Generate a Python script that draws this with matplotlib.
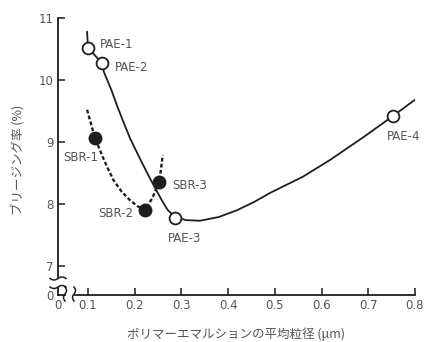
import numpy as np
import matplotlib
matplotlib.use("Agg")
import matplotlib.pyplot as plt

plt.rcParams['font.family'] = ['Noto Sans CJK JP', 'DejaVu Sans']

# ---- data ----
pae_names = ["PAE-1", "PAE-2", "PAE-3", "PAE-4"]
pae_x = [0.100, 0.130, 0.286, 0.753]
pae_y = [10.52, 10.27, 7.77, 9.42]

sbr_names = ["SBR-1", "SBR-2", "SBR-3"]
sbr_x = [0.115, 0.222, 0.252]
sbr_y = [9.06, 7.90, 8.35]

# traced curves
pae_curve_x = [0.098, 0.100, 0.130, 0.134, 0.150, 0.164, 0.177, 0.190, 0.210, 0.228, 0.245,
               0.258, 0.270, 0.286, 0.310, 0.340, 0.380, 0.419, 0.455, 0.490, 0.560, 0.618, 0.690, 0.753, 0.805]
pae_curve_y = [10.78, 10.52, 10.27, 10.13, 9.84, 9.55, 9.30, 9.06, 8.75, 8.48, 8.24,
               8.06, 7.91, 7.79, 7.74, 7.73, 7.79, 7.90, 8.03, 8.18, 8.44, 8.71, 9.08, 9.42, 9.71]

sbr_curve_x = [0.098, 0.115, 0.136, 0.154, 0.172, 0.190, 0.207, 0.222, 0.238, 0.252, 0.256, 0.260]
sbr_curve_y = [9.52, 9.06, 8.68, 8.39, 8.20, 8.06, 7.96, 7.90, 8.10, 8.35, 8.55, 8.79]

xticks = [0.1, 0.2, 0.3, 0.4, 0.5, 0.6, 0.7, 0.8]
yticks = [7, 8, 9, 10, 11]
xlabel = "ポリマーエマルションの平均粒径 (μm)"
ylabel = "ブリージング率 (%)"

# ---- layout ----
W, H = 427, 342
fig = plt.figure(figsize=(W / 100, H / 100), dpi=100)
ax = fig.add_axes([58 / W, 1 - 295 / H, (415 - 58) / W, (295 - 18) / H])

x0 = 0.1 - 30 / 467.0
y0 = 7 - 29 / 62.0
ax.set_xlim(x0, 0.8)
ax.set_ylim(y0, 11)

ink = "#1e1e1e"
gray = "#555555"

ax.plot(pae_curve_x, pae_curve_y, color=ink, lw=1.3, solid_capstyle='round',
        solid_joinstyle='round', zorder=2)
ax.plot(sbr_curve_x, sbr_curve_y, color=ink, lw=1.7, ls=(0, (1.6, 1.0)), zorder=2)
ax.plot(pae_x, pae_y, 'o', ms=8.5, mfc='white', mec=ink, mew=1.3, zorder=3)
ax.plot(sbr_x, sbr_y, 'o', ms=9, mfc=ink, mec=ink, zorder=3)

pae_off = [(12, 3, 'left'), (13, -4, 'left'), (10, -20, 'center'), (11, -21, 'center')]
for n, x, y, (dx, dy, ha) in zip(pae_names, pae_x, pae_y, pae_off):
    ax.annotate(n, (x, y), xytext=(dx, dy), textcoords='offset pixels', ha=ha, va='center',
                fontsize=8.5, color=gray, family=['DejaVu Sans'])
sbr_off = [(-14, -19, 'center'), (-12, -3, 'right'), (13, -3, 'left')]
for n, x, y, (dx, dy, ha) in zip(sbr_names, sbr_x, sbr_y, sbr_off):
    ax.annotate(n, (x, y), xytext=(dx, dy), textcoords='offset pixels', ha=ha, va='center',
                fontsize=8.5, color=gray, family=['DejaVu Sans'])

# ticks
ax.set_xticks([x0] + xticks)
ax.set_xticklabels(["0"] + [f"{v:.1f}" for v in xticks])
ax.set_yticks([y0] + yticks)
ax.set_yticklabels(["0"] + [str(v) for v in yticks])
ax.tick_params(direction='in', length=5, width=1.1, color=ink, labelcolor=gray, labelsize=8.5, pad=3)
for lab in ax.get_xticklabels() + ax.get_yticklabels():
    lab.set_family(['DejaVu Sans'])
ax.xaxis.get_major_ticks()[0].tick1line.set_visible(False)
ax.yaxis.get_major_ticks()[0].tick1line.set_visible(False)

for s in ['top', 'right']:
    ax.spines[s].set_visible(False)
for s in ['left', 'bottom']:
    ax.spines[s].set_linewidth(1.3)
    ax.spines[s].set_color(ink)

# broken axes
y_gap_top = 11 - (277 - 18) / 62.0
y_gap_bot = 11 - (288 - 18) / 62.0
x_gap_l = 0.1 - (88 - 65) / 467.0
x_gap_r = 0.1 - (88 - 75) / 467.0
ax.spines['left'].set_bounds(y_gap_top, 11)
ax.spines['bottom'].set_bounds(x_gap_r, 0.8)
ax.plot([x0, x0], [y0, y_gap_bot], color=ink, lw=1.3, clip_on=False)
ax.plot([x0, x_gap_l], [y0, y0], color=ink, lw=1.3, clip_on=False)

t = np.linspace(0, 1, 30)
for py in (278.5, 287):
    xs = (50 + 16 * t) / W
    ys = 1 - (py + 1.5 * np.sin(2 * np.pi * t)) / H
    fig.add_artist(plt.Line2D(xs, ys, color=ink, lw=1.1))
for px in (65, 74):
    ys = 1 - (287 + 14 * t) / H
    xs = (px + 1.5 * np.sin(2 * np.pi * t)) / W
    fig.add_artist(plt.Line2D(xs, ys, color=ink, lw=1.1))

fig.text(236 / W, 1 - 334 / H, xlabel, ha='center', va='center', fontsize=9, color=gray)
fig.text(18 / W, 1 - 160 / H, ylabel, ha='center', va='center', rotation=90, fontsize=9, color=gray)

fig.savefig("out.png", dpi=100, facecolor='white')
